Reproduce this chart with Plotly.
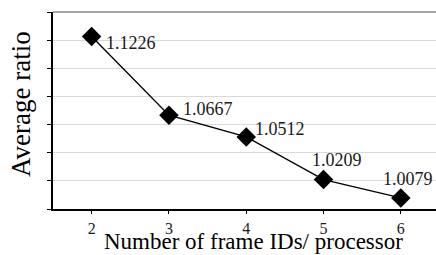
import plotly.graph_objects as go

frame_ids = [2, 3, 4, 5, 6]
avg_ratio = [1.1226, 1.0667, 1.0512, 1.0209, 1.0079]
labels = ["1.1226", "1.0667", "1.0512", "1.0209", "1.0079"]
x_title = "Number of frame IDs/ processor"
y_title = "Average ratio"

# label offsets (pixels) relative to each marker: (xanchor, xshift, yshift)
label_offsets = [("left", 12, -7), ("left", 12, 6), ("left", 7, 8),
                 ("center", 13, 20), ("center", 7, 19)]

FONT = "Liberation Serif"

fig = go.Figure()
fig.add_trace(go.Scatter(
    x=frame_ids, y=avg_ratio, mode="lines+markers",
    line=dict(color="black", width=1.4),
    marker=dict(symbol="diamond", size=15, color="black"),
    showlegend=False, hoverinfo="skip",
))

for xv, yv, lab, (anc, xs, ys) in zip(frame_ids, avg_ratio, labels, label_offsets):
    fig.add_annotation(x=xv, y=yv, xref="x", yref="y", text=lab, showarrow=False,
                       xanchor=anc, yanchor="middle", xshift=xs, yshift=ys,
                       font=dict(family=FONT, size=18, color="#1a1a1a"))

fig.add_annotation(x=(253 - 53) / 383, y=-(241 - 209) / 197, xref="paper", yref="paper",
                   text=x_title, showarrow=False, xanchor="center", yanchor="middle",
                   borderpad=0,
                   font=dict(family=FONT, size=23, color="black"))
fig.add_annotation(x=-(53 - 21) / 383, y=(209 - 104) / 197, xref="paper", yref="paper",
                   text=y_title, showarrow=False, textangle=-90, xanchor="center", yanchor="middle",
                   font=dict(family=FONT, size=27, color="black"))

# top border of plot area
fig.add_shape(type="line", xref="paper", yref="paper", x0=0, x1=1, y0=1, y1=1,
              line=dict(color="#a6a6a6", width=2))

fig.update_layout(
    width=436, height=255,
    margin=dict(l=53, r=0, t=12, b=46),
    paper_bgcolor="white", plot_bgcolor="white",
    font=dict(family=FONT, color="black"),
)
fig.update_xaxes(range=[1.5, 6.455], tickvals=frame_ids, showgrid=False,
                 showline=True, linecolor="black", linewidth=1.5,
                 ticks="outside", ticklen=3, tickcolor="black", ticklabelstandoff=1,
                 tickfont=dict(family=FONT, size=16, color="#1a1a1a"), zeroline=False)
fig.update_yaxes(range=[1.0, 1.14], dtick=0.02, showticklabels=False,
                 showgrid=True, gridcolor="#d9d9d9", gridwidth=1,
                 showline=True, linecolor="black", linewidth=1.5,
                 ticks="outside", ticklen=4, tickcolor="black", zeroline=False)

fig.write_html("out.html", config={"displayModeBar": False},
               post_script="document.body.style.margin='0';document.body.style.padding='0';")
